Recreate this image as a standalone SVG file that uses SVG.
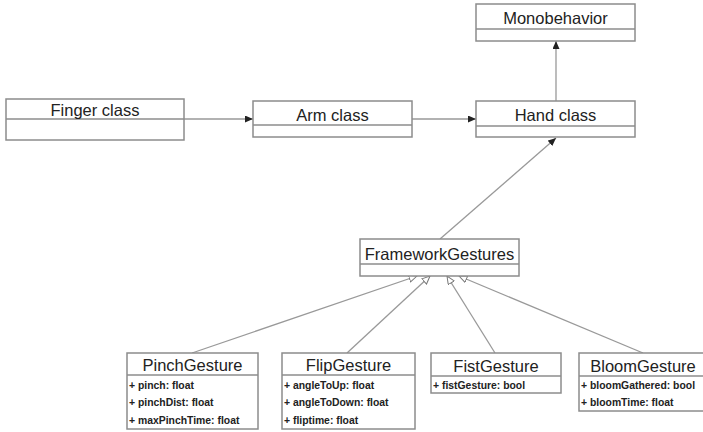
<svg xmlns="http://www.w3.org/2000/svg" width="703" height="432" viewBox="0 0 703 432">
<style>
.box{fill:#fff;stroke:#8c8c8c;stroke-width:1.5}
.div{stroke:#8c8c8c;stroke-width:1.5}
.t{font-family:"Liberation Sans",Arial,sans-serif;font-size:16.5px;fill:#222;text-anchor:middle}
.a{font-family:"Liberation Sans",Arial,sans-serif;font-size:10.4px;font-weight:bold;fill:#222}
.ln{stroke:#999;stroke-width:1.3;fill:none}
</style>
<defs>
<marker id="fa" markerUnits="userSpaceOnUse" markerWidth="8" markerHeight="7" refX="8" refY="3.5" orient="auto"><path d="M0,0 L8,3.5 L0,7 z" fill="#222"/></marker>
<marker id="ha" markerUnits="userSpaceOnUse" markerWidth="10" markerHeight="9" refX="8.5" refY="4" orient="auto"><path d="M0.5,0.5 L8.5,4 L0.5,7.5 z" fill="#fff" stroke="#777" stroke-width="1"/></marker>
</defs>
<rect width="703" height="432" fill="#fff"/>
<g id="connectors">
<line class="ln" x1="184" y1="119" x2="253" y2="119" marker-end="url(#fa)"/>
<line class="ln" x1="412" y1="119" x2="476" y2="119" marker-end="url(#fa)"/>
<line class="ln" x1="556" y1="101" x2="556" y2="41" marker-end="url(#fa)"/>
<line class="ln" x1="440" y1="239" x2="556" y2="138" marker-end="url(#fa)"/>
<line class="ln" x1="192" y1="353" x2="417" y2="276" marker-end="url(#ha)"/>
<line class="ln" x1="347" y1="353" x2="430" y2="276" marker-end="url(#ha)"/>
<line class="ln" x1="495" y1="353" x2="447" y2="276" marker-end="url(#ha)"/>
<line class="ln" x1="643" y1="353" x2="459" y2="276" marker-end="url(#ha)"/>
</g>
<g id="finger">
<rect class="box" x="6" y="99" width="178" height="41"/>
<line class="div" x1="6" y1="119" x2="184" y2="119"/>
<text class="t" x="95" y="116">Finger class</text>
</g>
<g id="arm">
<rect class="box" x="253" y="101" width="159" height="36"/>
<line class="div" x1="253" y1="125" x2="412" y2="125"/>
<text class="t" x="332.5" y="121">Arm class</text>
</g>
<g id="hand">
<rect class="box" x="476" y="101" width="159" height="36"/>
<line class="div" x1="476" y1="126" x2="635" y2="126"/>
<text class="t" x="555.5" y="121">Hand class</text>
</g>
<g id="monobehavior">
<rect class="box" x="476" y="4" width="159" height="37"/>
<line class="div" x1="476" y1="29" x2="635" y2="29"/>
<text class="t" x="555.5" y="24">Monobehavior</text>
</g>
<g id="framework">
<rect class="box" x="360" y="239" width="159" height="37"/>
<line class="div" x1="360" y1="264" x2="519" y2="264"/>
<text class="t" x="439.5" y="260">FrameworkGestures</text>
</g>
<g id="pinch">
<rect class="box" x="127" y="353" width="131" height="76"/>
<line class="div" x1="127" y1="375" x2="258" y2="375"/>
<text class="t" x="192.5" y="371">PinchGesture</text>
<text class="a" x="129" y="389">+ pinch: float</text>
<text class="a" x="129" y="406">+ pinchDist: float</text>
<text class="a" x="129" y="424">+ maxPinchTime: float</text>
</g>
<g id="flip">
<rect class="box" x="282" y="353" width="133" height="76"/>
<line class="div" x1="282" y1="375" x2="415" y2="375"/>
<text class="t" x="348.5" y="371">FlipGesture</text>
<text class="a" x="284" y="389">+ angleToUp: float</text>
<text class="a" x="284" y="406">+ angleToDown: float</text>
<text class="a" x="284" y="424">+ fliptime: float</text>
</g>
<g id="fist">
<rect class="box" x="431" y="353" width="130" height="40"/>
<line class="div" x1="431" y1="376" x2="561" y2="376"/>
<text class="t" x="496" y="372">FistGesture</text>
<text class="a" x="433" y="389">+ fistGesture: bool</text>
</g>
<g id="bloom">
<rect class="box" x="579" y="353" width="128" height="58"/>
<line class="div" x1="579" y1="376" x2="707" y2="376"/>
<text class="t" x="643" y="372">BloomGesture</text>
<text class="a" x="581" y="389">+ bloomGathered: bool</text>
<text class="a" x="581" y="406">+ bloomTime: float</text>
</g>
</svg>
